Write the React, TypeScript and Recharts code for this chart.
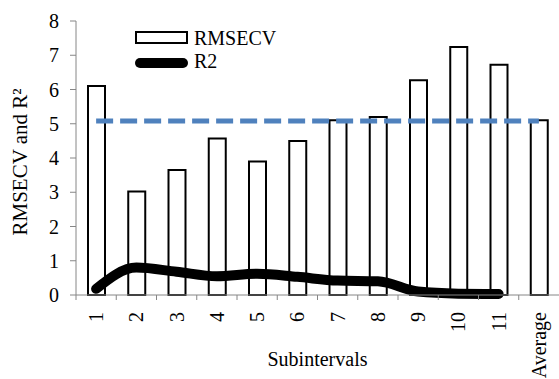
import React from "react";
import {
  ComposedChart,
  Bar,
  Line,
  XAxis,
  YAxis,
  Label,
} from "recharts";

const categories = ["1", "2", "3", "4", "5", "6", "7", "8", "9", "10", "11", "Average"];
const rmsecv = [6.1, 3.02, 3.65, 4.57, 3.9, 4.5, 5.1, 5.2, 6.27, 7.24, 6.72, 5.1];
const r2 = [0.18, 0.8, 0.68, 0.55, 0.62, 0.53, 0.42, 0.4, 0.1, 0.04, 0.03, null];
const averageLine = [5.08, 5.08, 5.08, 5.08, 5.08, 5.08, 5.08, 5.08, 5.08, 5.08, 5.08, 5.08];
const yTicks = [0, 1, 2, 3, 4, 5, 6, 7, 8];

const FONT = "'Liberation Serif', 'Times New Roman', 'DejaVu Serif', serif";
const AXIS = "#868686";
const FS = 20;

const data = categories.map((name, i) => ({
  name,
  rmsecv: rmsecv[i],
  r2: r2[i],
  avg: averageLine[i],
}));

const CategoryTick = (props: any) => {
  const { x, y, payload } = props;
  const off = payload.offset || 0;
  return (
    <g>
      <line x1={x - off} y1={y - 5} x2={x - off} y2={y} stroke={AXIS} strokeWidth={1} />
      <text
        x={x}
        y={y + 12}
        transform={`rotate(-90, ${x}, ${y + 12})`}
        textAnchor="end"
        dy="0.35em"
        fontFamily={FONT}
        fontSize={FS}
        fill="#000"
      >
        {payload.value}
      </text>
    </g>
  );
};

const LegendBox = () => (
  <svg
    width={200}
    height={60}
    style={{ position: "absolute", left: 129, top: 30, display: "block", overflow: "visible" }}
  >
    <rect x={7} y={2} width={51} height={11} fill="#fff" stroke="#000" strokeWidth={2} />
    <text x={65} y={15} fontFamily={FONT} fontSize={FS} fill="#000">
      RMSECV
    </text>
    <line x1={11} y1={33} x2={54} y2={33} stroke="#000" strokeWidth={10} strokeLinecap="round" />
    <text x={65} y={38} fontFamily={FONT} fontSize={FS} fill="#000">
      R2
    </text>
  </svg>
);

export default function App() {
  return (
    <div
      style={{
        position: "absolute",
        left: 0,
        top: 0,
        width: 559,
        height: 379,
        background: "#fff",
        fontFamily: FONT,
      }}
    >
      <ComposedChart
        width={559}
        height={379}
        data={data}
        margin={{ top: 21, right: 0, bottom: 0, left: 0 }}
        barCategoryGap={0}
      >
        <XAxis
          dataKey="name"
          height={84}
          axisLine={{ stroke: AXIS }}
          tickLine={false}
          tickSize={5}
          tickMargin={0}
          interval={0}
          tick={<CategoryTick />}
        >
          <Label
            value="Subintervals"
            position="insideBottom"
            offset={13}
            fontFamily={FONT}
            fontSize={FS}
            fill="#000"
          />
        </XAxis>
        <YAxis
          width={76}
          domain={[0, 8]}
          ticks={yTicks}
          interval={0}
          axisLine={{ stroke: AXIS }}
          tickLine={{ stroke: AXIS }}
          tickSize={6}
          tickMargin={11}
          tick={{ fontFamily: FONT, fontSize: FS, fill: "#000" }}
        >
          <Label
            content={({ viewBox }: any) => {
              const cx = 20;
              const cy = 162;
              return (
                <text
                  x={cx}
                  y={cy}
                  transform={`rotate(-90, ${cx}, ${cy})`}
                  textAnchor="middle"
                  dy="0.35em"
                  fontFamily={FONT}
                  fontSize={21}
                  fill="#000"
                >
                  RMSECV and R²
                </text>
              );
            }}
          />
        </YAxis>
        <Bar
          dataKey="rmsecv"
          barSize={17}
          fill="#fff"
          stroke="#000"
          strokeWidth={2}
          isAnimationActive={false}
        />
        <Line
          dataKey="avg"
          type="linear"
          stroke="#4F81BD"
          strokeWidth={5}
          strokeDasharray="17 7"
          dot={false}
          activeDot={false}
          isAnimationActive={false}
        />
        <Line
          dataKey="r2"
          type="monotone"
          stroke="#000"
          strokeWidth={10}
          strokeLinecap="round"
          strokeLinejoin="round"
          dot={false}
          activeDot={false}
          connectNulls={false}
          isAnimationActive={false}
        />
      </ComposedChart>
      <LegendBox />
    </div>
  );
}
